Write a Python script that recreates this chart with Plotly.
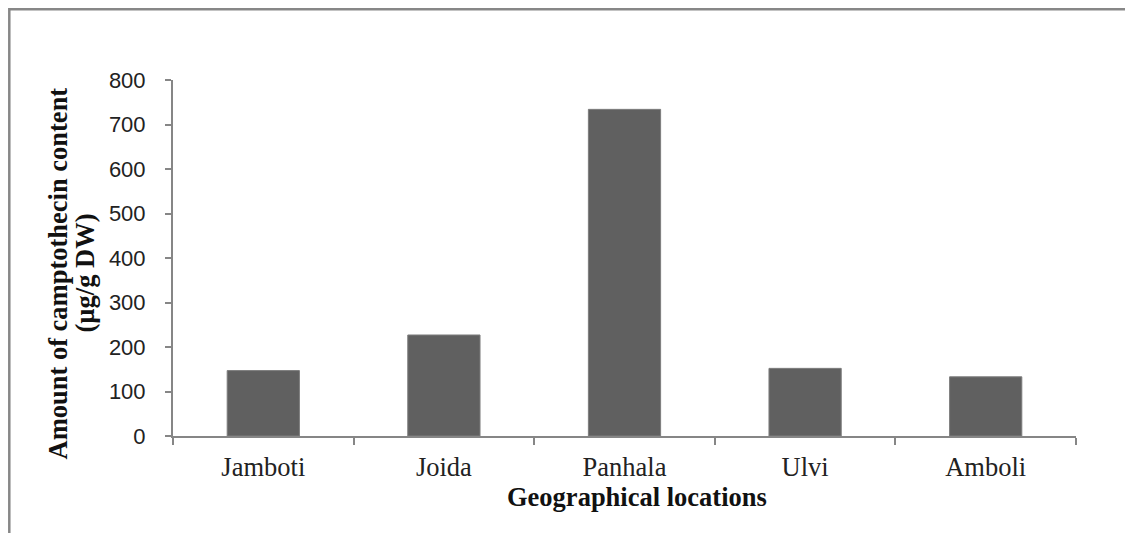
import plotly.graph_objects as go

locations = ["Jamboti", "Joida", "Panhala", "Ulvi", "Amboli"]
camptothecin = [147, 227, 734, 152, 133]
y_ticks = [0, 100, 200, 300, 400, 500, 600, 700, 800]
y_title_lines = ["Amount of camptothecin content", "(µg/g DW)"]
x_title = "Geographical locations"

AXIS_GREY = "#868686"
TITLE_FONT = dict(family="Liberation Serif", size=26.5, color="#111111")

fig = go.Figure(
    go.Bar(
        x=locations,
        y=camptothecin,
        marker=dict(color="#606060", line=dict(color="#7d7d7d", width=1)),
    )
)

annotations = [
    dict(
        text=f"<b>{y_title_lines[0]}</b>",
        xref="paper", yref="paper",
        x=(57 - 173) / 903, y=(436 - 273.5) / 356,
        xanchor="center", yanchor="middle",
        textangle=-90, showarrow=False, font=TITLE_FONT,
    ),
    dict(
        text=f"<b>{y_title_lines[1]}</b>",
        xref="paper", yref="paper",
        x=(84 - 173) / 903, y=(436 - 273.5) / 356,
        xanchor="center", yanchor="middle",
        textangle=-90, showarrow=False, font=TITLE_FONT,
    ),
    dict(
        text=f"<b>{x_title}</b>",
        xref="paper", yref="paper",
        x=(637 - 173) / 903, y=(436 - 497) / 356,
        xanchor="center", yanchor="middle",
        showarrow=False, font=TITLE_FONT,
    ),
]

fig.update_layout(
    width=1133,
    height=533,
    margin=dict(l=165, r=65, t=72, b=105),
    paper_bgcolor="white",
    plot_bgcolor="white",
    bargap=0.6,
    showlegend=False,
    annotations=annotations,
    xaxis=dict(
        type="category",
        showline=True,
        linecolor=AXIS_GREY,
        linewidth=2,
        ticks="outside",
        tickson="boundaries",
        ticklen=7,
        tickwidth=2,
        tickcolor=AXIS_GREY,
        showgrid=False,
        ticklabelstandoff=6,
        tickfont=dict(family="Liberation Serif", size=26.5, color="#222222"),
    ),
    yaxis=dict(
        range=[0, 800],
        tickvals=y_ticks,
        showline=True,
        linecolor=AXIS_GREY,
        linewidth=2,
        ticks="outside",
        ticklen=6,
        tickwidth=2,
        tickcolor=AXIS_GREY,
        showgrid=False,
        zeroline=False,
        ticklabelstandoff=15,
        tickfont=dict(family="Liberation Sans", size=22, color="#222222"),
    ),
    shapes=[
        dict(
            type="rect",
            xref="paper",
            yref="paper",
            x0=(1.3 - 165) / 903,
            x1=1.3,
            y0=-0.5,
            y1=(428 - 1.3) / 356,
            line=dict(color="#878787", width=2.5),
            fillcolor="rgba(0,0,0,0)",
            layer="below",
        )
    ],
)

fig.write_html("out.html")
